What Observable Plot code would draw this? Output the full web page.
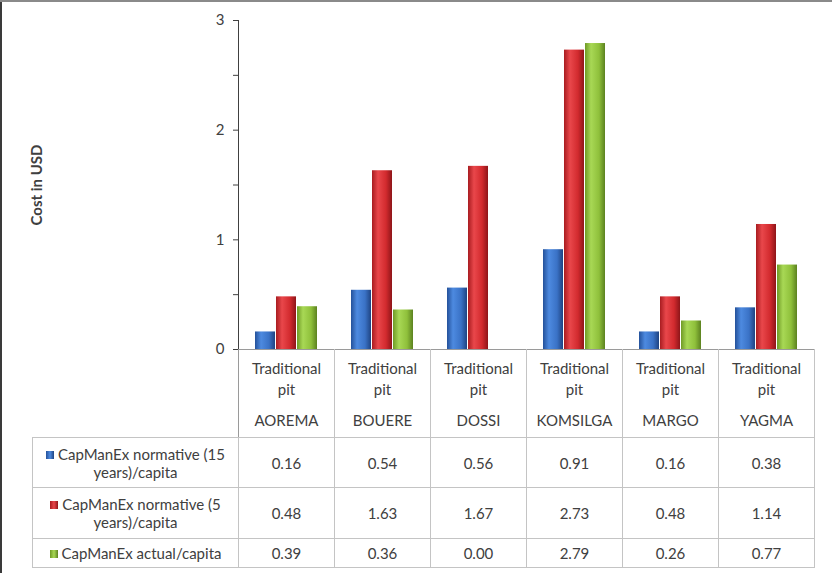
<!DOCTYPE html>
<html>
<head>
<meta charset="utf-8">
<script src="https://cdn.jsdelivr.net/npm/d3@7"></script>
<script src="https://cdn.jsdelivr.net/npm/@observablehq/plot@0.6"></script>
<style>
  html, body { margin: 0; padding: 0; background: #fff; }
  #wrap { position: relative; width: 832px; height: 573px; overflow: hidden; background: #fff; font-family: Lato, "Open Sans", sans-serif; color: #404040; }
  #bleft { position: absolute; left: 0; top: 0; width: 2px; height: 573px; background: #3a3a3a; }
  #btop { position: absolute; left: 0; top: 0; width: 832px; height: 2px; background: #8a8a8a; }
  #chart { position: absolute; left: 0; top: 0; }
  #chart g[aria-label="y-axis label"] text { font-weight: bold; }
  #chart g[aria-label="y-axis tick"] { stroke: #9a9a9a; }
  #tbl { position: absolute; left: 32px; top: 349px; border-collapse: collapse; table-layout: fixed; font-size: 15px; }
  #tbl td { border: 1px solid #c4c4c4; text-align: center; vertical-align: middle; padding: 0; }
  #tbl td.corner { border-top: none; border-left: none; }
  #tbl tr.cat td { vertical-align: top; border-top: 1px solid #9a9a9a; }
  #tbl tr.cat td.corner { border-top: none; border-right: 1px solid #9a9a9a; }
  #tbl tr.cat .l1 { margin-top: 8px; line-height: 21px; }
  #tbl tr.cat .l2 { margin-top: 10px; line-height: 21px; }
  #tbl td.leg { line-height: 18px; padding: 0 4px; }
  .sw { display: inline-block; width: 8px; height: 8px; margin-right: 4px; vertical-align: 1px; }
</style>
</head>
<body>
<div id="wrap">
  <div id="chart"></div>
  <div id="bleft"></div>
  <div id="btop"></div>
</div>
<script>
// ---- data ----
const sites = ["AOREMA", "BOUERE", "DOSSI", "KOMSILGA", "MARGO", "YAGMA"];
const pitType = "Traditional pit";
const seriesNames = [
  "CapManEx normative (15 years)/capita",
  "CapManEx normative (5 years)/capita",
  "CapManEx actual/capita"
];
const normative15 = [0.16, 0.54, 0.56, 0.91, 0.16, 0.38];
const normative5 = [0.48, 1.63, 1.67, 2.73, 0.48, 1.14];
const actual = [0.39, 0.36, 0.00, 2.79, 0.26, 0.77];
const yTicks = [0, 0.5, 1, 1.5, 2, 2.5, 3];
const yLabel = "Cost in USD";

const seriesValues = [normative15, normative5, actual];
const gradIds = ["gBlue", "gRed", "gGreen"];
const gradStops = [
  ["#24519a", "#4d8ae0", "#3a72c6", "#1f4482"],
  ["#a81c20", "#e9474b", "#d22a2e", "#8e1519"],
  ["#6f9a26", "#a8d855", "#8fc03b", "#5c8220"]
];

const rows = [];
seriesNames.forEach((s, i) => sites.forEach((site, j) => rows.push({site, series: s, value: seriesValues[i][j], idx: i})));

const plot = Plot.plot({
  width: 832,
  height: 362,
  marginLeft: 238,
  marginRight: 18,
  marginTop: 20,
  marginBottom: 13,
  style: {fontFamily: "Lato, 'Open Sans', sans-serif", fontSize: "15px", color: "#404040", background: "transparent"},
  fx: {domain: sites, padding: 0, axis: null},
  x: {domain: seriesNames, paddingInner: 0.03, paddingOuter: 0.75, axis: null},
  y: {
    domain: [0, 3],
    ticks: yTicks,
    tickFormat: d => Number.isInteger(d) ? String(d) : "",
    tickSize: 5,
    tickPadding: 9,
    line: true,
    label: yLabel,
    labelAnchor: "center",
    labelArrow: "none",
    labelOffset: 207
  },
  marks: seriesNames.map((s, i) =>
    Plot.barY(rows.filter(r => r.idx === i), {fx: "site", x: "series", y: "value", fill: `url(#${gradIds[i]})`})
  )
});

// gradients for cylinder look
const svg = d3.select(plot);
const defs = svg.insert("defs", ":first-child");
gradIds.forEach((id, i) => {
  const g = defs.append("linearGradient").attr("id", id).attr("x1", 0).attr("x2", 1).attr("y1", 0).attr("y2", 0);
  const st = gradStops[i];
  g.append("stop").attr("offset", "0%").attr("stop-color", st[0]);
  g.append("stop").attr("offset", "30%").attr("stop-color", st[1]);
  g.append("stop").attr("offset", "70%").attr("stop-color", st[2]);
  g.append("stop").attr("offset", "100%").attr("stop-color", st[3]);
});
document.getElementById("chart").appendChild(plot);

// data table below the chart
const tbl = document.createElement("table");
tbl.id = "tbl";
const cg = document.createElement("colgroup");
[206, 96, 96, 96, 96, 96, 96].forEach(w => { const c = document.createElement("col"); c.style.width = w + "px"; cg.appendChild(c); });
tbl.appendChild(cg);
const catRow = document.createElement("tr");
catRow.className = "cat";
catRow.style.height = "88px";
const corner = document.createElement("td");
corner.className = "corner";
catRow.appendChild(corner);
sites.forEach(site => {
  const td = document.createElement("td");
  const parts = pitType.split(" ");
  td.innerHTML = `<div class="l1">${parts[0]}<br>${parts[1]}</div><div class="l2">${site}</div>`;
  catRow.appendChild(td);
});
tbl.appendChild(catRow);
const rowHeights = [50, 51, 29];
seriesNames.forEach((s, i) => {
  const tr = document.createElement("tr");
  tr.style.height = rowHeights[i] + "px";
  const lt = document.createElement("td");
  lt.className = "leg";
  const st = gradStops[i];
  lt.innerHTML = `<span class="sw" style="background:linear-gradient(90deg, ${st[0]}, ${st[1]}, ${st[3]})"></span>${s}`;
  tr.appendChild(lt);
  seriesValues[i].forEach(v => {
    const td = document.createElement("td");
    td.textContent = v.toFixed(2);
    tr.appendChild(td);
  });
  tbl.appendChild(tr);
});
document.getElementById("wrap").appendChild(tbl);
</script>
</body>
</html>
